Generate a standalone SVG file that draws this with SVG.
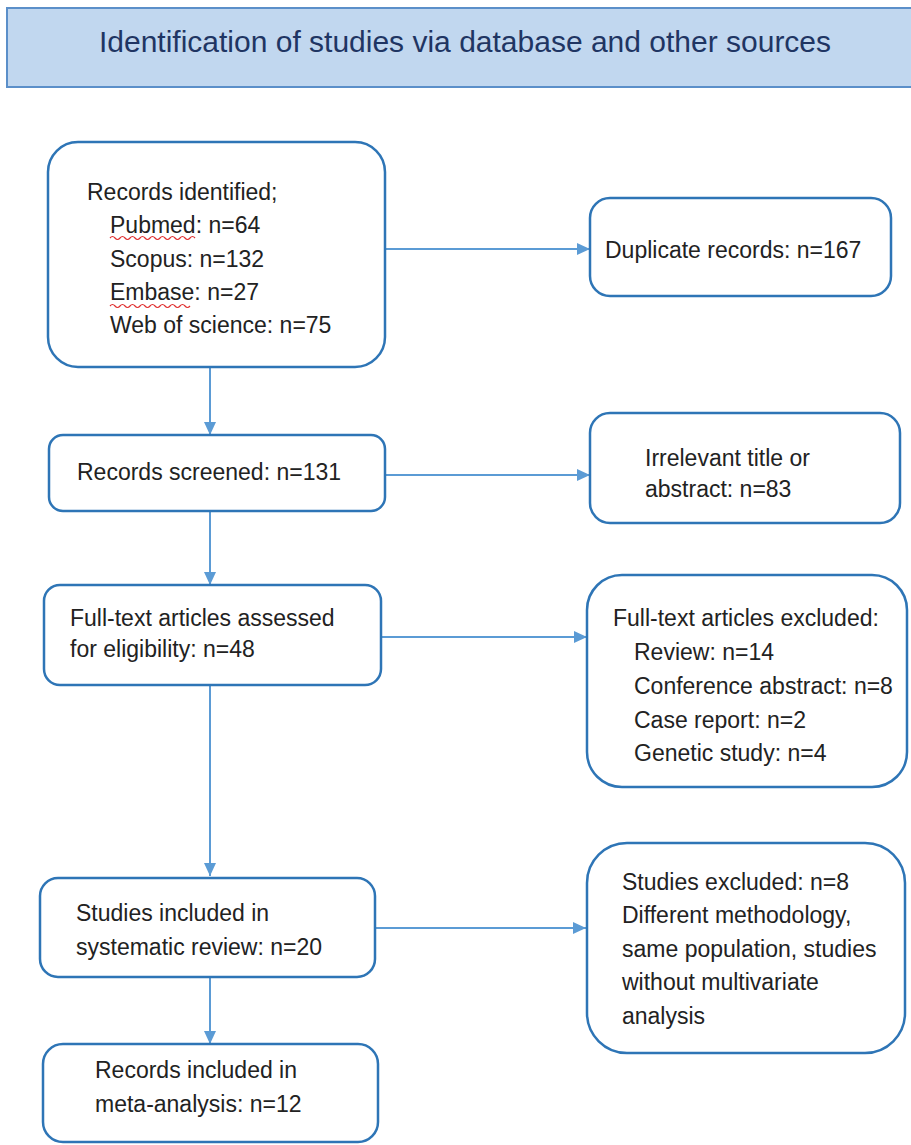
<svg xmlns="http://www.w3.org/2000/svg" width="911" height="1145" viewBox="0 0 911 1145">
<style>
.bg{fill:#ffffff}
.hdr{fill:#c1d7ef;stroke:#5b8fc9;stroke-width:2}
.title{font-family:"Liberation Sans",Arial,sans-serif;font-size:30px;fill:#1f3563}
.box{fill:#ffffff;stroke:#2e75b6;stroke-width:2.5}
.t{font-family:"Liberation Sans",Arial,sans-serif;font-size:23px;fill:#222222}
.c{stroke:#5b9bd5;stroke-width:2;fill:none}
.sq{stroke:#e03030;stroke-width:1.2;fill:none}
</style>
<defs>
<marker id="ah" markerWidth="14" markerHeight="12" refX="13" refY="6" orient="auto" markerUnits="userSpaceOnUse">
<path d="M0,0 L13,6 L0,12 Z" fill="#5b9bd5"/>
</marker>
</defs>
<rect class="bg" x="0" y="0" width="911" height="1145"/>
<g id="header">
<rect class="hdr" x="7" y="8" width="912" height="79"/>
<text class="title" x="465" y="52" text-anchor="middle">Identification of studies via database and other sources</text>
</g>
<g id="connectors">
<line class="c" x1="385" y1="249" x2="590" y2="249" marker-end="url(#ah)"/>
<line class="c" x1="210" y1="367" x2="210" y2="435" marker-end="url(#ah)"/>
<line class="c" x1="385" y1="475" x2="590" y2="475" marker-end="url(#ah)"/>
<line class="c" x1="210" y1="511" x2="210" y2="585" marker-end="url(#ah)"/>
<line class="c" x1="381" y1="637" x2="587" y2="637" marker-end="url(#ah)"/>
<line class="c" x1="210" y1="685" x2="210" y2="876" marker-end="url(#ah)"/>
<line class="c" x1="375" y1="928" x2="586" y2="928" marker-end="url(#ah)"/>
<line class="c" x1="210" y1="977" x2="210" y2="1044" marker-end="url(#ah)"/>
</g>
<g id="records-identified">
<rect class="box" x="48" y="142" width="337" height="225" rx="30"/>
<text class="t" x="87" y="200">Records identified;</text>
<text class="t" x="110" y="233">Pubmed: n=64</text>
<text class="t" x="110" y="267">Scopus: n=132</text>
<text class="t" x="110" y="300">Embase: n=27</text>
<text class="t" x="110" y="333">Web of science: n=75</text>
<path class="sq" d="M110,238 q2.5,-3 5,0 t5,0 t5,0 t5,0 t5,0 t5,0 t5,0 t5,0 t5,0 t5,0 t5,0 t5,0 t5,0 t5,0 t5,0 t5,0 t5,0"/>
<path class="sq" d="M110,306 q2.5,-3 5,0 t5,0 t5,0 t5,0 t5,0 t5,0 t5,0 t5,0 t5,0 t5,0 t5,0 t5,0 t5,0 t5,0 t5,0 t5,0"/>
</g>
<g id="duplicates">
<rect class="box" x="590" y="198" width="301" height="98" rx="20"/>
<text class="t" x="605" y="258">Duplicate records: n=167</text>
</g>
<g id="records-screened">
<rect class="box" x="49" y="435" width="336" height="76" rx="14"/>
<text class="t" x="77" y="480">Records screened: n=131</text>
</g>
<g id="irrelevant">
<rect class="box" x="590" y="413" width="310" height="110" rx="20"/>
<text class="t" x="645" y="466">Irrelevant title or</text>
<text class="t" x="645" y="497">abstract: n=83</text>
</g>
<g id="fulltext-assessed">
<rect class="box" x="44" y="585" width="337" height="100" rx="16"/>
<text class="t" x="70" y="626">Full-text articles assessed</text>
<text class="t" x="70" y="657">for eligibility: n=48</text>
</g>
<g id="fulltext-excluded">
<rect class="box" x="587" y="575" width="320" height="212" rx="35"/>
<text class="t" x="613" y="626">Full-text articles excluded:</text>
<text class="t" x="634" y="660">Review: n=14</text>
<text class="t" x="634" y="694">Conference abstract: n=8</text>
<text class="t" x="634" y="728">Case report: n=2</text>
<text class="t" x="634" y="761">Genetic study: n=4</text>
</g>
<g id="studies-included">
<rect class="box" x="40" y="878" width="335" height="99" rx="18"/>
<text class="t" x="76" y="921">Studies included in</text>
<text class="t" x="76" y="955">systematic review: n=20</text>
</g>
<g id="studies-excluded">
<rect class="box" x="587" y="843" width="318" height="210" rx="40"/>
<text class="t" x="622" y="890">Studies excluded: n=8</text>
<text class="t" x="622" y="923">Different methodology,</text>
<text class="t" x="622" y="957">same population, studies</text>
<text class="t" x="622" y="990">without multivariate</text>
<text class="t" x="622" y="1024">analysis</text>
</g>
<g id="records-included">
<rect class="box" x="43" y="1044" width="335" height="98" rx="20"/>
<text class="t" x="95" y="1078">Records included in</text>
<text class="t" x="95" y="1112">meta-analysis: n=12</text>
</g>
</svg>
